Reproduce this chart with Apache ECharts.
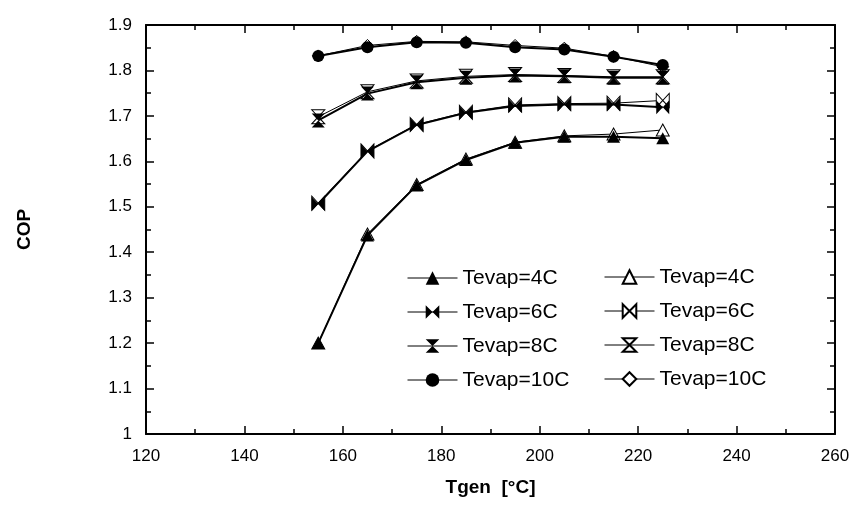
<!DOCTYPE html>
<html>
<head>
<meta charset="utf-8">
<script src="https://cdn.jsdelivr.net/npm/echarts@6/dist/echarts.min.js"></script>
<style>
  html, body { margin: 0; padding: 0; background: #fff; }
  #chart { width: 862px; height: 510px; }
</style>
</head>
<body>
<div id="chart"></div>
<script>
// generator temperature (x)
var tgen = [155, 165, 175, 185, 195, 205, 215, 225];

// COP, filled markers
var cop4 = [1.20, 1.437, 1.547, 1.603, 1.641, 1.654, 1.654, 1.651];
var cop6 = [1.506, 1.622, 1.680, 1.707, 1.722, 1.725, 1.725, 1.719];
var cop8 = [1.690, 1.749, 1.774, 1.784, 1.789, 1.787, 1.784, 1.784];
var cop10 = [1.832, 1.851, 1.862, 1.861, 1.851, 1.846, 1.830, 1.812];

// COP, open markers
var cop4b = [1.20, 1.440, 1.549, 1.605, 1.642, 1.656, 1.660, 1.669];
var cop6b = [1.508, 1.623, 1.681, 1.708, 1.724, 1.727, 1.728, 1.734];
var cop8b = [1.698, 1.753, 1.777, 1.787, 1.791, 1.789, 1.786, 1.786];
var cop10b = [1.832, 1.855, 1.864, 1.863, 1.855, 1.849, 1.831, 1.808];

var BOWTIE = 'path://M0,0L10,7L0,14ZM20,0L10,7L20,14Z';
var HOURGLASS = 'path://M0,0L14,0L7,7ZM0,14L14,14L7,7Z';
var FONT = '"Liberation Sans", Arial, sans-serif';

function pairs(ys) {
  var out = [];
  for (var i = 0; i < tgen.length; i++) out.push([tgen[i], ys[i]]);
  return out;
}

function filled(name, ys, symbol, size) {
  return {
    name: name, type: 'line', data: pairs(ys),
    symbol: symbol, symbolSize: size,
    lineStyle: { color: '#000', width: 2 },
    itemStyle: { color: '#000', borderWidth: 0 },
    z: 3
  };
}

function open(name, ys, symbol, size) {
  return {
    name: name, type: 'line', data: pairs(ys),
    symbol: symbol, symbolSize: size,
    lineStyle: { color: '#000', width: 1 },
    itemStyle: { color: '#fff', borderColor: '#000', borderWidth: 1 },
    z: 2
  };
}

var chart = echarts.init(document.getElementById('chart'));

var axisBase = {
  axisLine: { show: true, onZero: false, lineStyle: { color: '#000', width: 2 } },
  axisTick: { show: true, inside: true, length: 8, lineStyle: { color: '#000', width: 1.5 } },
  minorTick: { show: true, splitNumber: 2, length: 5, lineStyle: { color: '#000', width: 1.5 } },
  splitLine: { show: false }
};

var legendText = { color: '#000', fontSize: 21, fontFamily: FONT, lineHeight: 22 };

chart.setOption({
  animation: false,
  grid: { left: 146, top: 25, right: 27, bottom: 76 },
  xAxis: [
    Object.assign({}, axisBase, {
      type: 'value', min: 120, max: 260, interval: 20, position: 'bottom',
      name: 'Tgen  [°C]', nameLocation: 'middle', nameGap: 44,
      nameTextStyle: { color: '#000', fontSize: 19, fontWeight: 'bold', fontFamily: FONT },
      axisLabel: { color: '#000', fontSize: 17, fontFamily: FONT, margin: 14 }
    }),
    Object.assign({}, axisBase, {
      type: 'value', min: 120, max: 260, interval: 20, position: 'top',
      axisLabel: { show: false }
    })
  ],
  yAxis: [
    Object.assign({}, axisBase, {
      type: 'value', min: 1, max: 1.9, interval: 0.1, position: 'left',
      name: 'COP', nameLocation: 'middle', nameGap: 112, nameRotate: 90,
      nameTextStyle: { color: '#000', fontSize: 19, fontWeight: 'bold', fontFamily: FONT },
      axisLabel: { color: '#000', fontSize: 17, fontFamily: FONT, margin: 14 }
    }),
    Object.assign({}, axisBase, {
      type: 'value', min: 1, max: 1.9, interval: 0.1, position: 'right',
      axisLabel: { show: false }
    })
  ],
  legend: [
    {
      left: 402, top: 262, orient: 'vertical',
      itemWidth: 50, itemHeight: 17, itemGap: 12,
      textStyle: legendText,
      lineStyle: { width: 1 },
      data: ['Tevap=4C', 'Tevap=6C', 'Tevap=8C', 'Tevap=10C']
    },
    {
      left: 599, top: 261, orient: 'vertical',
      itemWidth: 50, itemHeight: 17, itemGap: 12,
      textStyle: legendText,
      lineStyle: { width: 1 },
      formatter: function (name) { return name.replace(' (open)', ''); },
      data: ['Tevap=4C (open)', 'Tevap=6C (open)', 'Tevap=8C (open)', 'Tevap=10C (open)']
    }
  ],
  series: [
    open('Tevap=4C (open)', cop4b, 'triangle', [13, 12]),
    open('Tevap=6C (open)', cop6b, BOWTIE, [13, 14]),
    open('Tevap=8C (open)', cop8b, HOURGLASS, [13, 14]),
    open('Tevap=10C (open)', cop10b, 'diamond', [12, 12]),
    filled('Tevap=4C', cop4, 'triangle', [13, 12]),
    filled('Tevap=6C', cop6, BOWTIE, [13, 14]),
    filled('Tevap=8C', cop8, HOURGLASS, [13, 14]),
    filled('Tevap=10C', cop10, 'circle', 12)
  ]
});
</script>
</body>
</html>
